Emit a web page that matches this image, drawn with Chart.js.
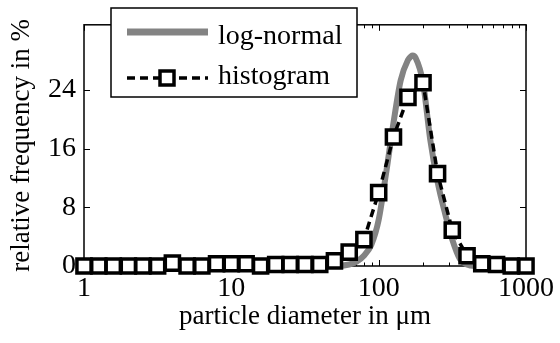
<!DOCTYPE html>
<html>
<head>
<meta charset="utf-8">
<script src="https://cdn.jsdelivr.net/npm/chart.js@4"></script>
<style>
  html, body { margin: 0; padding: 0; background: #fff; }
  #wrap { width: 560px; height: 343px; }
</style>
</head>
<body>
<div id="wrap"><canvas id="chart" width="560" height="343"></canvas></div>
<script>
// histogram bins (particle diameter in μm) and relative frequency in %
const histDiameters = [1, 1.26, 1.58, 2, 2.51, 3.16, 3.98, 5.01, 6.31, 7.94,
  10, 12.6, 15.8, 20, 25.1, 31.6, 39.8, 50.1, 63.1, 79.4,
  100, 126, 158, 200, 251, 316, 398, 501, 631, 794, 1000];
const histValues = [0, 0, 0, 0, 0, 0, 0.4, 0, 0, 0.3,
  0.3, 0.3, 0, 0.2, 0.2, 0.2, 0.2, 0.7, 1.9, 3.6,
  10, 17.6, 23, 25, 12.6, 4.9, 1.4, 0.3, 0.2, 0, 0];

// fitted log-normal curve
const fitDiameters = [1, 3.16, 10, 31.6, 50.1, 63.1, 70.8, 79.4, 89.1, 100,
  112, 126, 141, 158, 166, 170, 178, 200, 224, 251,
  282, 316, 355, 398, 447, 501, 1000];
const fitValues = [0, 0, 0, 0, 0, 0.2, 0.6, 1.4, 2.9, 6.3,
  12.5, 19.5, 25.3, 28.1, 28.6, 28.7, 28.4, 25, 17.2, 11.5,
  7.2, 3.6, 1.0, 0.2, 0, 0, 0];

const xTickValues = [1, 10, 100, 1000];
const yTickValues = [0, 8, 16, 24];
const seriesNames = ['log-normal', 'histogram'];
const xTitle = 'particle diameter in μm';
const yTitle = 'relative frequency in %';

const serif = "'Liberation Serif', 'Times New Roman', serif";
const tickFont = { family: serif, size: 28 };
const titleFont = { family: serif, size: 27 };
Chart.defaults.font.family = serif;
Chart.defaults.color = '#000';

const toPoints = (xs, ys) => xs.map((x, i) => ({ x, y: ys[i] }));

// box round the plot with inward ticks, like the original
const frame = {
  id: 'frame',
  beforeDatasetsDraw(chart) {
    const { ctx, chartArea: a, scales: { x, y } } = chart;
    ctx.save();
    ctx.strokeStyle = '#000';
    ctx.lineWidth = 1.5;
    ctx.strokeRect(a.left, a.top, a.right - a.left, a.bottom - a.top);
    ctx.lineWidth = 1;
    ctx.beginPath();
    xTickValues.forEach((v, i) => {
      const steps = i < xTickValues.length - 1 ? [1, 2, 3, 4, 5, 6, 7, 8, 9] : [1];
      steps.forEach((m) => {
        const px = Math.round(x.getPixelForValue(v * m)) + 0.5;
        const len = m === 1 ? 6 : 3.5;
        ctx.moveTo(px, a.bottom); ctx.lineTo(px, a.bottom - len);
        ctx.moveTo(px, a.top); ctx.lineTo(px, a.top + len);
      });
    });
    yTickValues.forEach((v) => {
      const py = Math.round(y.getPixelForValue(v)) + 0.5;
      ctx.moveTo(a.left, py); ctx.lineTo(a.left + 6, py);
      ctx.moveTo(a.right, py); ctx.lineTo(a.right - 6, py);
    });
    ctx.stroke();
    ctx.restore();
  }
};

// legend box drawn over the top left of the plot
const boxLegend = {
  id: 'boxLegend',
  afterDraw(chart) {
    const { ctx } = chart;
    const [fit, hist] = chart.data.datasets;
    ctx.save();
    ctx.fillStyle = '#fff';
    ctx.strokeStyle = '#000';
    ctx.lineWidth = 1.5;
    ctx.fillRect(111, 8, 246, 89);
    ctx.strokeRect(111, 8, 246, 89);

    ctx.strokeStyle = fit.borderColor;
    ctx.lineWidth = 7;
    ctx.beginPath();
    ctx.moveTo(127, 32); ctx.lineTo(208, 32);
    ctx.stroke();

    ctx.strokeStyle = hist.borderColor;
    ctx.lineWidth = hist.borderWidth;
    ctx.setLineDash(hist.borderDash);
    ctx.beginPath();
    ctx.moveTo(127, 78); ctx.lineTo(208, 78);
    ctx.stroke();
    ctx.setLineDash([]);
    ctx.fillStyle = '#fff';
    ctx.lineWidth = hist.pointBorderWidth;
    ctx.fillRect(160, 71, 14, 14);
    ctx.strokeRect(160, 71, 14, 14);

    ctx.fillStyle = '#000';
    ctx.font = `28px ${serif}`;
    ctx.textBaseline = 'alphabetic';
    ctx.fillText(fit.label, 218, 44);
    ctx.fillText(hist.label, 218, 84);
    ctx.restore();
  }
};

new Chart(document.getElementById('chart'), {
  type: 'line',
  data: {
    datasets: [
      {
        label: seriesNames[0],
        data: toPoints(fitDiameters, fitValues),
        borderColor: '#838383',
        borderWidth: 6,
        pointRadius: 0,
        cubicInterpolationMode: 'monotone',
        order: 1,
        clip: false
      },
      {
        label: seriesNames[1],
        data: toPoints(histDiameters, histValues),
        borderColor: '#000',
        borderWidth: 3.5,
        borderDash: [8, 5],
        pointStyle: 'rect',
        pointRadius: 10,
        pointBorderWidth: 3.5,
        pointBackgroundColor: '#fff',
        pointBorderColor: '#000',
        order: 0,
        clip: false
      }
    ]
  },
  options: {
    responsive: false,
    animation: false,
    layout: { padding: { top: 22, right: 29, left: 0, bottom: 0 } },
    plugins: { legend: { display: false }, tooltip: { enabled: false } },
    scales: {
      x: {
        type: 'logarithmic',
        min: 1,
        max: 1000,
        afterBuildTicks: (scale) => { scale.ticks = xTickValues.map((v) => ({ value: v })); },
        afterFit: (scale) => { scale.height = 77; },
        ticks: { autoSkip: false, maxRotation: 0, padding: 6, font: tickFont, color: '#000', callback: (v) => String(v) },
        grid: { display: false, drawTicks: false },
        border: { display: false },
        title: { display: true, text: xTitle, font: titleFont, color: '#000', padding: { top: 0, bottom: 10 } }
      },
      y: {
        type: 'linear',
        min: 0,
        max: 32.9,
        afterBuildTicks: (scale) => { scale.ticks = yTickValues.map((v) => ({ value: v })); },
        afterFit: (scale) => { scale.width = 84; },
        ticks: { padding: 8, font: tickFont, color: '#000', callback: (v) => String(v) },
        grid: { display: false, drawTicks: false },
        border: { display: false },
        title: { display: true, text: yTitle, font: titleFont, color: '#000', padding: { top: 6, bottom: 0 } }
      }
    }
  },
  plugins: [frame, boxLegend]
});
</script>
</body>
</html>
